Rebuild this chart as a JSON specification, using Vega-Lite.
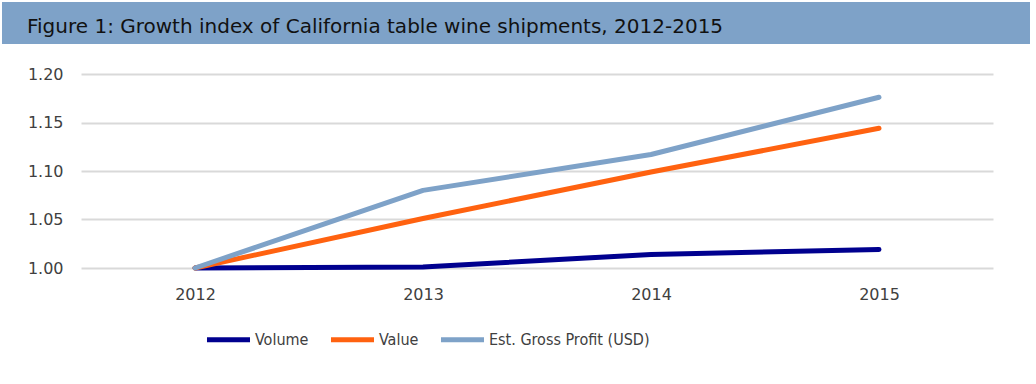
{
  "$schema": "https://vega.github.io/schema/vega-lite/v6.json",
  "background": "white",
  "padding": {"left": 2, "top": 2, "right": 6, "bottom": 2},
  "spacing": 22,
  "config": {
    "view": {"stroke": null},
    "font": "DejaVu Sans"
  },
  "vconcat": [
    {
      "width": 949,
      "height": 42,
      "view": {"fill": "#7EA2C8", "stroke": null},
      "data": {"values": [{"label": "Figure 1: Growth index of California table wine shipments, 2012-2015"}]},
      "mark": {"type": "text", "align": "left", "baseline": "middle", "dx": -54, "dy": 4, "font": "DejaVu Sans", "fontSize": 20, "color": "#111111"},
      "encoding": {
        "x": {"datum": 0, "scale": {"domain": [0, 1]}, "axis": null},
        "y": {"datum": 0.5, "scale": {"domain": [0, 1]}, "axis": {"title": null, "labels": false, "ticks": false, "grid": false, "translate": 0, "domainColor": "#7EA2C8", "domainWidth": 158, "minExtent": 0, "maxExtent": 79}},
        "text": {"field": "label"}
      }
    },
    {
      "width": 912,
      "height": 194,
      "data": {"values": [
        {"year": "2012", "series": "Volume", "index": 1.000},
        {"year": "2013", "series": "Volume", "index": 1.001},
        {"year": "2014", "series": "Volume", "index": 1.014},
        {"year": "2015", "series": "Volume", "index": 1.019},
        {"year": "2012", "series": "Value", "index": 1.000},
        {"year": "2013", "series": "Value", "index": 1.051},
        {"year": "2014", "series": "Value", "index": 1.099},
        {"year": "2015", "series": "Value", "index": 1.144},
        {"year": "2012", "series": "Est. Gross Profit (USD)", "index": 1.000},
        {"year": "2013", "series": "Est. Gross Profit (USD)", "index": 1.080},
        {"year": "2014", "series": "Est. Gross Profit (USD)", "index": 1.117},
        {"year": "2015", "series": "Est. Gross Profit (USD)", "index": 1.176}
      ]},
      "mark": {"type": "line", "strokeWidth": 5, "strokeCap": "round", "strokeJoin": "round"},
      "encoding": {
        "x": {
          "field": "year", "type": "ordinal",
          "scale": {"type": "point", "padding": 0.5},
          "axis": {"title": null, "labelAngle": 0, "domain": false, "ticks": false, "labelPadding": 18, "labelFontSize": 16, "labelColor": "#404040", "labelFont": "DejaVu Sans"}
        },
        "y": {
          "field": "index", "type": "quantitative",
          "scale": {"domain": [1.0, 1.2], "nice": false, "zero": false},
          "axis": {"title": null, "values": [1.0, 1.05, 1.1, 1.15, 1.2], "format": ".2f", "domain": false, "ticks": false, "labelPadding": 18, "minExtent": 79, "labelFontSize": 16, "labelColor": "#404040", "labelFont": "DejaVu Sans", "gridColor": "#d9d9d9", "gridWidth": 2}
        },
        "color": {
          "field": "series", "type": "nominal",
          "sort": ["Volume", "Value", "Est. Gross Profit (USD)"],
          "scale": {"domain": ["Volume", "Value", "Est. Gross Profit (USD)"], "range": ["#00008F", "#FF6210", "#7EA2C8"]},
          "legend": {"title": null, "orient": "none", "legendX": 123, "legendY": 313, "direction": "horizontal", "symbolType": "stroke", "symbolStrokeWidth": 5, "symbolSize": 1850, "labelFontSize": 16, "labelColor": "#404040", "labelFont": "DejaVu Sans Condensed", "labelOffset": 2, "labelLimit": 0, "columnPadding": 11}
        }
      }
    }
  ]
}
